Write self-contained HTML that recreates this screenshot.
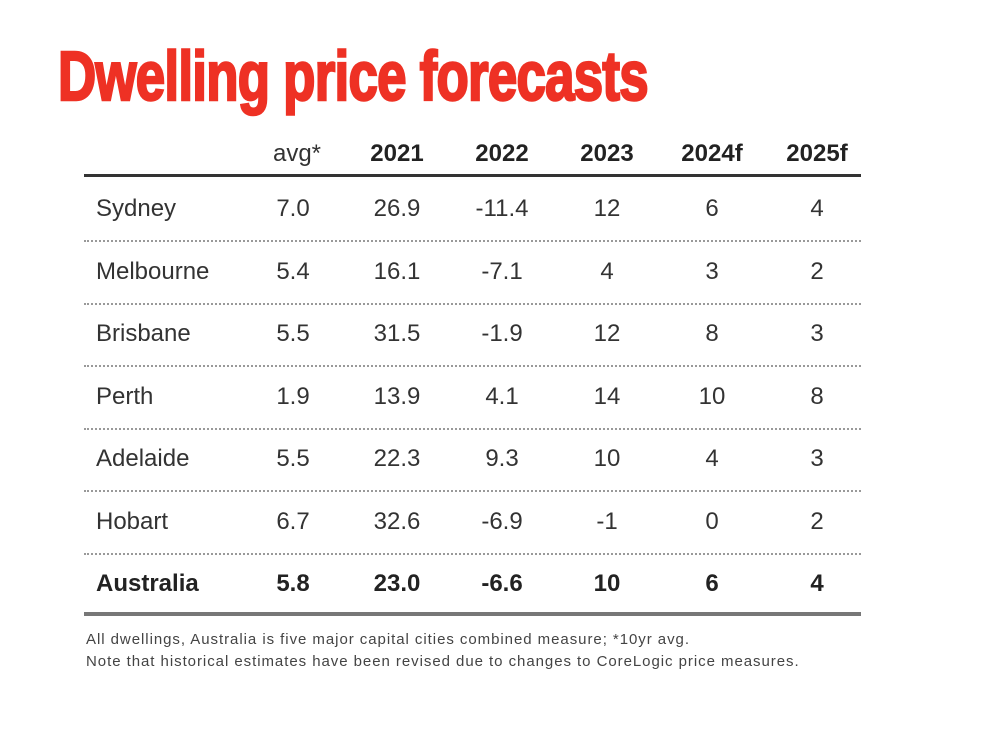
<!DOCTYPE html>
<html><head><meta charset="utf-8"><style>
body{margin:0;width:998px;height:740px;background:#fff;position:relative;overflow:hidden;font-family:"Liberation Sans",sans-serif;}
.t{position:absolute;left:58px;top:36px;font-size:70px;font-weight:bold;color:#ee3124;transform:scaleX(0.755);transform-origin:left top;white-space:nowrap;letter-spacing:-1px;-webkit-text-stroke:2.5px #ee3124;}
.c{position:absolute;transform:translate(-50%,-50%);font-size:24px;color:#333;white-space:nowrap;}
.l{position:absolute;transform:translateY(-50%);left:96px;font-size:24px;color:#333;}
.h{font-weight:bold;color:#222;}
.hr{position:absolute;left:84px;width:777px;}
.f{position:absolute;left:86px;font-size:15px;color:#444;letter-spacing:0.95px;white-space:nowrap;}
</style></head><body>
<div class="t">Dwelling price forecasts</div>
<div class="c h" style="left:297px;top:154px;font-weight:normal;color:#333">avg*</div>
<div class="c h" style="left:397px;top:154px">2021</div>
<div class="c h" style="left:502px;top:154px">2022</div>
<div class="c h" style="left:607px;top:154px">2023</div>
<div class="c h" style="left:712px;top:154px">2024f</div>
<div class="c h" style="left:817px;top:154px">2025f</div>
<div class="hr" style="top:174px;border-top:3px solid #333"></div>
<div id="rows"></div>
<div class="hr" style="top:612px;border-top:4px solid #777"></div>
<div class="f" style="top:631px">All dwellings, Australia is five major capital cities combined measure; *10yr avg.</div>
<div class="f" style="top:653px">Note that historical estimates have been revised due to changes to CoreLogic price measures.</div>
<script>
var d=[["Sydney","7.0","26.9","-11.4","12","6","4"],["Melbourne","5.4","16.1","-7.1","4","3","2"],["Brisbane","5.5","31.5","-1.9","12","8","3"],["Perth","1.9","13.9","4.1","14","10","8"],["Adelaide","5.5","22.3","9.3","10","4","3"],["Hobart","6.7","32.6","-6.9","-1","0","2"],["Australia","5.8","23.0","-6.6","10","6","4"]];
var xs=[293,397,502,607,712,817],h="";
d.forEach(function(r,i){var y=209+i*62.5;var b=i==6?" h":"";
h+='<div class="l'+b+'" style="top:'+y+'px">'+r[0]+'</div>';
for(var j=1;j<7;j++)h+='<div class="c'+b+'" style="left:'+xs[j-1]+'px;top:'+y+'px">'+r[j]+'</div>';
if(i<6)h+='<div class="hr" style="top:'+(y+31)+'px;border-top:2px dotted #999"></div>';});
document.getElementById("rows").innerHTML=h;
</script>
</body></html>
